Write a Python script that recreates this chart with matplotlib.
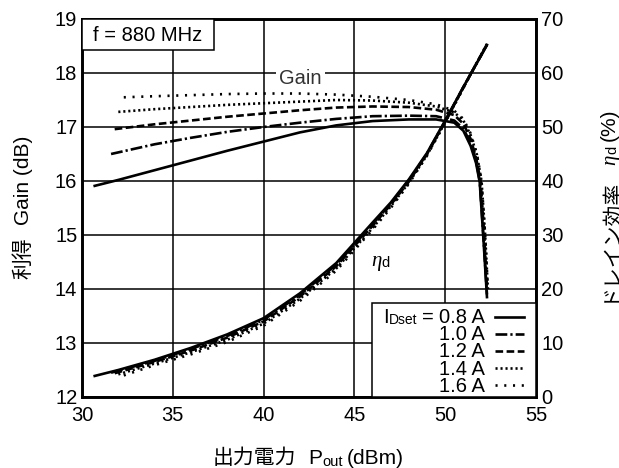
import matplotlib
matplotlib.use("Agg")
import matplotlib.pyplot as plt
from matplotlib.transforms import IdentityTransform
from matplotlib.patches import Rectangle
from matplotlib.lines import Line2D

plt.rcParams['font.family'] = ['Liberation Sans', 'Noto Sans CJK JP']
plt.rcParams['lines.scale_dashes'] = False

# ---- data: power gain (dB) vs output power (dBm) ----
gain_pout_08 = [30.7, 32, 34, 36, 38, 40, 42, 44, 46, 48, 49.5, 50.5, 51.0, 51.4, 51.7, 51.9, 52.1, 52.3]
gain_08 = [15.91, 16.02, 16.2, 16.38, 16.56, 16.73, 16.9, 17.03, 17.11, 17.14, 17.14, 17.08, 16.93, 16.65, 16.33, 15.98, 14.95, 13.85]

gain_pout_10 = [31.6, 34, 36, 38, 40, 42, 44, 46, 48, 49.5, 50.5, 51.0, 51.4, 51.7, 51.9, 52.1, 52.3]
gain_10 = [16.5, 16.68, 16.8, 16.91, 17.0, 17.08, 17.15, 17.2, 17.21, 17.2, 17.12, 16.97, 16.7, 16.38, 16.0, 15.0, 13.9]

gain_pout_12 = [31.8, 34, 36, 38, 40, 42, 44, 46, 48, 49.5, 50.5, 51.0, 51.4, 51.7, 51.95, 52.15, 52.3]
gain_12 = [16.96, 17.05, 17.12, 17.19, 17.25, 17.31, 17.36, 17.38, 17.37, 17.32, 17.22, 17.06, 16.78, 16.43, 16.0, 15.0, 14.0]

gain_pout_14 = [32.0, 34, 36, 38, 40, 42, 44, 46, 48, 49.5, 50.5, 51.0, 51.4, 51.75, 52.0, 52.2, 52.35]
gain_14 = [17.28, 17.33, 17.37, 17.41, 17.44, 17.47, 17.5, 17.49, 17.45, 17.38, 17.27, 17.12, 16.85, 16.48, 16.0, 15.0, 14.0]

gain_pout_16 = [32.3, 34, 36, 38, 40, 42, 44, 46, 48, 49.5, 50.5, 51.0, 51.4, 51.75, 52.0, 52.2, 52.35]
gain_16 = [17.55, 17.57, 17.59, 17.61, 17.62, 17.62, 17.6, 17.56, 17.5, 17.42, 17.3, 17.15, 16.88, 16.5, 16.0, 15.0, 14.0]

# ---- data: drain efficiency (%) vs output power (dBm) ----
eff_pout_08 = [30.7, 32, 34, 36, 38, 40, 42, 44, 46, 47, 48, 49, 50, 51, 51.5, 52.3]
eff_08 = [3.9, 5.0, 6.9, 9.1, 11.6, 14.6, 19.2, 24.8, 32.3, 36.0, 40.3, 45.2, 51.2, 57.4, 60.4, 65.2]

eff_pout_10 = [31.6, 34, 36, 38, 40, 42, 44, 46, 47, 48, 49, 50, 51, 51.5, 52.3]
eff_10 = [4.5, 6.7, 8.9, 11.3, 14.3, 18.9, 24.5, 32.0, 35.8, 40.1, 45.1, 51.1, 57.4, 60.4, 65.2]

eff_pout_12 = [31.8, 34, 36, 38, 40, 42, 44, 46, 47, 48, 49, 50, 51, 51.5, 52.3]
eff_12 = [4.4, 6.5, 8.6, 11.0, 14.0, 18.6, 24.2, 31.7, 35.6, 39.9, 45.0, 51.0, 57.3, 60.4, 65.3]

eff_pout_14 = [32.0, 34, 36, 38, 40, 42, 44, 46, 47, 48, 49, 50, 51, 51.5, 52.3]
eff_14 = [4.2, 6.2, 8.3, 10.6, 13.6, 18.2, 23.8, 31.3, 35.3, 39.7, 44.8, 50.9, 57.3, 60.4, 65.4]

eff_pout_16 = [32.3, 34, 36, 38, 40, 42, 44, 46, 47, 48, 49, 50, 51, 51.5, 52.35]
eff_16 = [4.0, 5.9, 7.9, 10.2, 13.2, 17.8, 23.4, 31.0, 35.0, 39.5, 44.7, 50.8, 57.2, 60.4, 65.5]

idset_labels = ['0.8 A', '1.0 A', '1.2 A', '1.4 A', '1.6 A']
x_ticks = [30, 35, 40, 45, 50, 55]
gain_ticks = [12, 13, 14, 15, 16, 17, 18, 19]
eff_ticks = [0, 10, 20, 30, 40, 50, 60, 70]

# ---- styles ----
line_styles = [
    '-',
    (0, (8.5, 2.2, 1.6, 2.2)),
    (0, (5.5, 2.5)),
    (0, (1.5, 2.1)),
    (0, (1.5, 4.8)),
]
gain_series = [(gain_pout_08, gain_08), (gain_pout_10, gain_10), (gain_pout_12, gain_12),
               (gain_pout_14, gain_14), (gain_pout_16, gain_16)]
eff_series = [(eff_pout_08, eff_08), (eff_pout_10, eff_10), (eff_pout_12, eff_12),
              (eff_pout_14, eff_14), (eff_pout_16, eff_16)]

FS = 14.5      # tick labels and in-plot text
FS_T = 15      # axis titles

W, H = 619, 468
fig = plt.figure(figsize=(W / 100, H / 100), dpi=100)
L, R, T, B = 82, 536, 19, 397
ax = fig.add_axes([L / W, 1 - B / H, (R - L) / W, (B - T) / H])
ax2 = ax.twinx()

ax.set_xlim(30, 55)
ax.set_ylim(12, 19)
ax2.set_ylim(0, 70)
ax.set_xticks(x_ticks)
ax.set_yticks(gain_ticks)
ax2.set_yticks(eff_ticks)
ax.grid(True, color='black', lw=1.1)
ax.set_axisbelow(True)
ax.tick_params(axis='y', length=0, pad=3.4, labelsize=FS)
ax.tick_params(axis='x', length=0, pad=6.5, labelsize=FS)
ax2.tick_params(axis='y', length=0, pad=3.8, labelsize=FS)
for a in (ax, ax2):
    for sp in a.spines.values():
        sp.set_linewidth(1.9)

for (xs, ys), ls in zip(gain_series, line_styles):
    ax.plot(xs, ys, color='black', lw=1.9, linestyle=ls, dash_capstyle='butt')
for (xs, ys), ls in zip(eff_series, line_styles):
    ax2.plot(xs, ys, color='black', lw=1.9, linestyle=ls, dash_capstyle='butt')

# frequency box
ax2.add_patch(Rectangle((0, 1 - 31 / 378), (214 - L) / (R - L), 31 / 378,
                        transform=ax2.transAxes, fc='white', ec='black', lw=1.1,
                        zorder=5, clip_on=False))
ax2.text((148 - L) / (R - L), (B - 35.5) / (B - T), 'f = 880 MHz', transform=ax2.transAxes,
         ha='center', va='center', fontsize=FS, zorder=6)

# curve group label
ax2.text((300.5 - L) / (R - L), (B - 79) / (B - T), 'Gain', transform=ax2.transAxes,
         ha='center', va='center', fontsize=FS, color='#333333', zorder=6,
         bbox=dict(fc='white', ec='none', pad=2.0))

# legend box
lx0 = (372 - L) / (R - L)
ly1 = (B - 303) / (B - T)
ax2.add_patch(Rectangle((lx0, 0), 1 - lx0, ly1, transform=ax2.transAxes,
                        fc='white', ec='black', lw=1.1, zorder=5))


def text_run(anchor, pieces, rotation=0, align='center'):
    """Lay out text pieces end to end in display pixels (baseline anchored)."""
    r = fig.canvas.get_renderer()
    arts, lengths = [], []
    for s, size, shift, gap, kw in pieces:
        t = fig.text(0, 0, s, transform=IdentityTransform(), fontsize=size,
                     rotation=rotation, rotation_mode='anchor', ha='left',
                     va='baseline', zorder=7, **kw)
        bb = t.get_window_extent(r)
        lengths.append(bb.width if rotation == 0 else bb.height)
        arts.append(t)
    total = sum(lengths) + sum(p[3] for p in pieces)
    pos = -total * {'left': 0.0, 'center': 0.5, 'right': 1.0}[align]
    x0, y0 = anchor
    for t, ln, p in zip(arts, lengths, pieces):
        pos += p[3]
        shift = p[2]
        if rotation == 0:
            t.set_position((x0 + pos, y0 + shift))
        else:
            t.set_position((x0 - shift, y0 + pos))
        pos += ln


eta_kw = dict(family='Liberation Serif', style='italic')
cjk_kw = dict(family=['Noto Sans CJK JP'])

# legend entries
row_base = [323.0, 340.2, 357.4, 374.6, 391.8]
for i, (lab, ls) in enumerate(zip(idset_labels, line_styles)):
    if i == 0:
        pieces = [('I', FS, 0, 0, {}), ('Dset', 10, -1, 0.5, {}),
                  ('=', FS, 0, 5, {}), (lab, FS, 0, 5, {})]
    else:
        pieces = [(lab, FS, 0, 0, {})]
    text_run((485, H - row_base[i]), pieces, align='right')
    yc = (B - (row_base[i] - 6.5)) / (B - T)
    ax2.add_line(Line2D([(495 - L) / (R - L), (524 - L) / (R - L)], [yc, yc],
                        transform=ax2.transAxes, color='black', lw=1.9,
                        linestyle=ls, dash_capstyle='butt', zorder=6))

# efficiency curve label
text_run((371, H - 266), [('η', 15, 0, 0, eta_kw), ('d', 10.5, -1, 0.5, {})], align='left')

# axis titles
text_run((308, H - 464.5), [('出力電力', FS_T, 0, 0, cjk_kw), ('P', FS_T, 0, 12, {}),
                            ('out', 10.5, -1, 0.5, {}), ('(dBm)', FS_T, 0, 4, {})])
text_run((29, H - 207), [('利得', FS_T, 0, 0, cjk_kw), ('Gain (dB)', FS_T, 0, 12, {})],
         rotation=90)
text_run((615, H - 205), [('ドレイン効率', FS_T, 0, 0, cjk_kw), ('η', FS_T, 0, 12, eta_kw),
                          ('d', 10.5, -1, 0.5, {}), ('(%)', FS_T, 0, 5, {})], rotation=90)

fig.savefig('out.png', dpi=100)
